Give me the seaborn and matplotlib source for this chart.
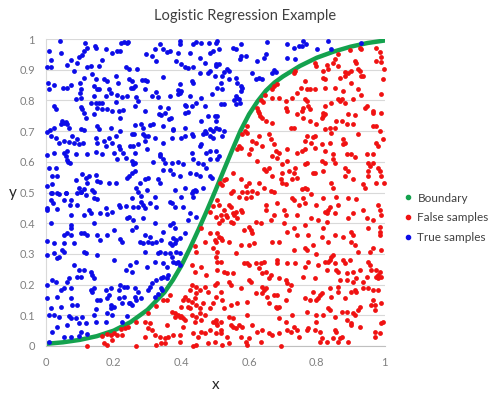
import matplotlib
matplotlib.use("Agg")
import matplotlib.pyplot as plt
from matplotlib.lines import Line2D
import seaborn as sns
import pandas as pd

# boundary curve
boundary_x = [0, 0.05, 0.1, 0.15, 0.2, 0.25, 0.3, 0.35, 0.375, 0.4, 0.425, 0.45, 0.475, 0.5,
              0.525, 0.55, 0.575, 0.6, 0.625, 0.65, 0.675, 0.7, 0.75, 0.8, 0.85, 0.9, 0.95, 1.0]
boundary_y = [0.007, 0.012, 0.02, 0.032, 0.05, 0.078, 0.118, 0.175, 0.215, 0.262, 0.318, 0.378, 0.44, 0.505,
              0.572, 0.638, 0.702, 0.755, 0.797, 0.832, 0.858, 0.878, 0.912, 0.939, 0.959, 0.975, 0.987, 0.995]

# True samples (blue), by region
true_top_left = [
    (0.041, 0.993), (0.114, 0.988), (0.144, 0.977), (0.147, 0.972), (0.223, 0.988), (0.230, 0.990),
    (0.238, 0.986), (0.243, 0.990), (0.009, 0.961), (0.043, 0.955), (0.112, 0.961), (0.176, 0.966),
    (0.122, 0.972), (0.097, 0.942), (0.107, 0.947), (0.016, 0.932), (0.073, 0.932), (0.166, 0.932),
    (0.196, 0.955), (0.210, 0.961), (0.220, 0.961), (0.063, 0.914), (0.092, 0.923), (0.122, 0.910),
    (0.132, 0.912), (0.156, 0.912), (0.002, 0.910), (0.014, 0.910), (0.235, 0.910), (0.245, 0.901),
    (0.083, 0.896), (0.006, 0.858), (0.024, 0.849), (0.009, 0.836), (0.051, 0.841), (0.063, 0.841),
    (0.073, 0.849), (0.100, 0.858), (0.112, 0.874), (0.137, 0.885), (0.147, 0.869), (0.142, 0.847),
    (0.151, 0.838), (0.156, 0.836), (0.181, 0.863), (0.171, 0.869), (0.206, 0.879), (0.212, 0.858),
    (0.245, 0.869), (0.250, 0.841), (0.186, 0.836), (0.102, 0.838), (0.100, 0.825), (0.088, 0.806),
    (0.102, 0.809), (0.176, 0.814), (0.191, 0.823), (0.210, 0.817), (0.225, 0.812), (0.238, 0.814),
    (0.142, 0.814), (0.024, 0.782), (0.031, 0.771), (0.102, 0.780), (0.107, 0.773), (0.147, 0.793),
    (0.156, 0.793), (0.166, 0.790), (0.132, 0.793), (0.151, 0.776), (0.112, 0.758), (0.117, 0.744),
    (0.142, 0.755), (0.166, 0.771), (0.181, 0.771), (0.206, 0.795), (0.196, 0.765), (0.215, 0.765),
    (0.228, 0.769), (0.220, 0.744), (0.048, 0.733), (0.053, 0.725), (0.058, 0.730), (0.061, 0.722),
    (0.043, 0.722), (0.068, 0.711), (0.024, 0.711), (0.012, 0.704), (0.102, 0.708), (0.112, 0.704),
    (0.151, 0.717), (0.156, 0.706), (0.191, 0.711), (0.220, 0.700), (0.002, 0.698), (0.014, 0.684),
    (0.029, 0.679), (0.038, 0.662), (0.053, 0.668), (0.068, 0.665), (0.078, 0.684), (0.092, 0.675),
    (0.097, 0.657), (0.110, 0.660), (0.083, 0.660), (0.147, 0.679), (0.151, 0.662), (0.171, 0.668),
    (0.176, 0.651), (0.186, 0.679), (0.196, 0.662), (0.208, 0.684), (0.215, 0.651), (0.218, 0.641),
    (0.228, 0.630), (0.004, 0.621), (0.024, 0.628), (0.053, 0.630), (0.058, 0.619), (0.063, 0.635),
    (0.065, 0.599), (0.071, 0.597), (0.088, 0.624), (0.122, 0.624), (0.147, 0.632), (0.166, 0.624),
    (0.201, 0.630), (0.210, 0.608), (0.235, 0.613), (0.061, 0.606), (0.009, 0.581), (0.029, 0.581),
    (0.019, 0.554), (0.033, 0.554), (0.107, 0.559), (0.117, 0.548), (0.147, 0.556), (0.127, 0.554),
    (0.151, 0.537), (0.120, 0.530), (0.088, 0.541), (0.161, 0.534), (0.186, 0.532), (0.206, 0.532),
    (0.238, 0.548), (0.245, 0.554), (0.004, 0.521), (0.019, 0.527), (0.097, 0.516), (0.112, 0.510),
    (0.137, 0.508), (0.102, 0.502), (0.014, 0.499), (0.033, 0.499), (0.058, 0.499), (0.092, 0.499),
]
true_top_mid = [
    (0.395, 0.993), (0.395, 0.983), (0.336, 0.983), (0.435, 0.983), (0.444, 0.990), (0.459, 0.986),
    (0.482, 0.986), (0.503, 0.988), (0.322, 0.966), (0.346, 0.966), (0.356, 0.958), (0.366, 0.961),
    (0.390, 0.955), (0.425, 0.955), (0.295, 0.950), (0.312, 0.945), (0.326, 0.928), (0.385, 0.928),
    (0.400, 0.917), (0.454, 0.939), (0.484, 0.955), (0.494, 0.961), (0.469, 0.923), (0.410, 0.910),
    (0.420, 0.907), (0.435, 0.910), (0.503, 0.912), (0.269, 0.903), (0.253, 0.863), (0.263, 0.847),
    (0.258, 0.841), (0.285, 0.866), (0.292, 0.866), (0.299, 0.863), (0.292, 0.838), (0.346, 0.877),
    (0.395, 0.852), (0.430, 0.863), (0.435, 0.858), (0.454, 0.888), (0.479, 0.888), (0.498, 0.879),
    (0.484, 0.896), (0.390, 0.834), (0.395, 0.825), (0.400, 0.831), (0.390, 0.820), (0.326, 0.827),
    (0.331, 0.812), (0.312, 0.814), (0.267, 0.812), (0.272, 0.798), (0.366, 0.814), (0.425, 0.814),
    (0.459, 0.809), (0.489, 0.820), (0.263, 0.782), (0.292, 0.765), (0.336, 0.778), (0.361, 0.776),
    (0.410, 0.785), (0.415, 0.782), (0.430, 0.782), (0.444, 0.793), (0.469, 0.782), (0.334, 0.755),
    (0.341, 0.751), (0.351, 0.758), (0.364, 0.738), (0.368, 0.744), (0.410, 0.758), (0.420, 0.762),
    (0.479, 0.749), (0.498, 0.749), (0.503, 0.733), (0.282, 0.722), (0.263, 0.719), (0.287, 0.711),
    (0.307, 0.719), (0.317, 0.722), (0.346, 0.717), (0.376, 0.706), (0.410, 0.711), (0.459, 0.733),
    (0.484, 0.706), (0.494, 0.700), (0.469, 0.700), (0.253, 0.689), (0.260, 0.692), (0.287, 0.689),
    (0.292, 0.684), (0.248, 0.651), (0.258, 0.651), (0.263, 0.630), (0.272, 0.657), (0.292, 0.668),
    (0.302, 0.684), (0.322, 0.679), (0.371, 0.679), (0.400, 0.679), (0.410, 0.684), (0.430, 0.689),
    (0.435, 0.684), (0.464, 0.689), (0.474, 0.695), (0.484, 0.684), (0.494, 0.679), (0.454, 0.651),
    (0.459, 0.657), (0.484, 0.635), (0.346, 0.660), (0.374, 0.704), (0.336, 0.624), (0.338, 0.619),
    (0.430, 0.630), (0.472, 0.630), (0.503, 0.635), (0.297, 0.641), (0.253, 0.603), (0.258, 0.592),
    (0.263, 0.597), (0.317, 0.599), (0.346, 0.608), (0.351, 0.597), (0.371, 0.597), (0.390, 0.599),
    (0.405, 0.592), (0.435, 0.608), (0.449, 0.597), (0.464, 0.592), (0.484, 0.608), (0.253, 0.565),
    (0.263, 0.570), (0.277, 0.532), (0.267, 0.516), (0.292, 0.543), (0.302, 0.548), (0.331, 0.543),
    (0.346, 0.573), (0.366, 0.573), (0.376, 0.559), (0.395, 0.554), (0.425, 0.565), (0.444, 0.559),
    (0.454, 0.554), (0.474, 0.581), (0.484, 0.554), (0.489, 0.548), (0.336, 0.532), (0.381, 0.508),
    (0.410, 0.516), (0.435, 0.505), (0.444, 0.505), (0.464, 0.516), (0.297, 0.508),
]
true_top_right = [
    (0.506, 0.993), (0.511, 0.966), (0.551, 0.972), (0.560, 0.966), (0.575, 0.983), (0.575, 0.945),
    (0.572, 0.936), (0.590, 0.945), (0.624, 0.928), (0.644, 0.939), (0.649, 0.950), (0.654, 0.990),
    (0.713, 0.983), (0.733, 0.972), (0.747, 0.977), (0.737, 0.934), (0.713, 0.939), (0.501, 0.917),
    (0.511, 0.917), (0.536, 0.901), (0.526, 0.893), (0.541, 0.896), (0.521, 0.879), (0.541, 0.869),
    (0.560, 0.874), (0.565, 0.858), (0.575, 0.847), (0.580, 0.841), (0.516, 0.858), (0.506, 0.841),
    (0.521, 0.836), (0.575, 0.831), (0.619, 0.869), (0.629, 0.874), (0.639, 0.869), (0.678, 0.893),
    (0.669, 0.890), (0.674, 0.898), (0.610, 0.888), (0.560, 0.814), (0.565, 0.809), (0.570, 0.803),
    (0.556, 0.801), (0.516, 0.787), (0.526, 0.787), (0.560, 0.787), (0.572, 0.793), (0.506, 0.749),
    (0.501, 0.711), (0.511, 0.706), (0.526, 0.700), (0.521, 0.684), (0.511, 0.619), (0.506, 0.608),
    (0.760, 0.993), (0.767, 0.983), (0.755, 0.977), (0.834, 0.993), (0.802, 0.966), (0.842, 0.969),
    (0.930, 0.988),
]
true_bottom_left = [
    (0.019, 0.497), (0.038, 0.495), (0.058, 0.499), (0.102, 0.503), (0.117, 0.492), (0.142, 0.503),
    (0.014, 0.476), (0.022, 0.467), (0.053, 0.476), (0.075, 0.476), (0.142, 0.481), (0.151, 0.478),
    (0.002, 0.448), (0.004, 0.443), (0.033, 0.445), (0.071, 0.459), (0.092, 0.459), (0.127, 0.443),
    (0.176, 0.448), (0.181, 0.430), (0.196, 0.438), (0.215, 0.459), (0.220, 0.454), (0.235, 0.456),
    (0.240, 0.416), (0.245, 0.421), (0.161, 0.432), (0.132, 0.432), (0.073, 0.427), (0.112, 0.427),
    (0.014, 0.400), (0.073, 0.394), (0.073, 0.383), (0.142, 0.400), (0.053, 0.362), (0.063, 0.367),
    (0.073, 0.362), (0.102, 0.367), (0.112, 0.367), (0.122, 0.362), (0.151, 0.362), (0.161, 0.345),
    (0.181, 0.362), (0.201, 0.378), (0.220, 0.347), (0.225, 0.340), (0.002, 0.343), (0.024, 0.334),
    (0.053, 0.334), (0.083, 0.334), (0.004, 0.296), (0.024, 0.302), (0.033, 0.286), (0.038, 0.291),
    (0.048, 0.313), (0.053, 0.307), (0.112, 0.307), (0.117, 0.302), (0.151, 0.296), (0.201, 0.280),
    (0.235, 0.248), (0.083, 0.264), (0.097, 0.248), (0.112, 0.248), (0.132, 0.242), (0.137, 0.231),
    (0.142, 0.220), (0.092, 0.224), (0.102, 0.224), (0.068, 0.220), (0.063, 0.210), (0.019, 0.215),
    (0.029, 0.210), (0.002, 0.199), (0.043, 0.182), (0.053, 0.188), (0.073, 0.188), (0.132, 0.182),
    (0.142, 0.188), (0.137, 0.177), (0.191, 0.188), (0.215, 0.182), (0.220, 0.199), (0.230, 0.193),
    (0.240, 0.193), (0.176, 0.182), (0.004, 0.155), (0.033, 0.161), (0.073, 0.155), (0.078, 0.134),
    (0.092, 0.134), (0.151, 0.150), (0.161, 0.150), (0.181, 0.155), (0.186, 0.166), (0.191, 0.134),
    (0.201, 0.128), (0.215, 0.155), (0.225, 0.139), (0.230, 0.161), (0.245, 0.139), (0.014, 0.123),
    (0.043, 0.128), (0.147, 0.119), (0.191, 0.123), (0.009, 0.101), (0.024, 0.101), (0.038, 0.096),
    (0.068, 0.098), (0.073, 0.090), (0.088, 0.090), (0.107, 0.096), (0.142, 0.101), (0.181, 0.106),
    (0.196, 0.101), (0.240, 0.098), (0.097, 0.074), (0.117, 0.074), (0.147, 0.079), (0.176, 0.079),
    (0.225, 0.079), (0.033, 0.063), (0.063, 0.068), (0.019, 0.047), (0.053, 0.030), (0.073, 0.030),
    (0.097, 0.034), (0.122, 0.039), (0.102, 0.047), (0.009, 0.014),
]
true_bottom_mid = [
    (0.272, 0.503), (0.282, 0.489), (0.253, 0.481), (0.258, 0.454), (0.272, 0.454), (0.282, 0.470),
    (0.287, 0.459), (0.292, 0.448), (0.307, 0.465), (0.322, 0.486), (0.326, 0.454), (0.366, 0.470),
    (0.371, 0.465), (0.381, 0.454), (0.400, 0.486), (0.405, 0.454), (0.430, 0.497), (0.435, 0.486),
    (0.439, 0.508), (0.425, 0.432), (0.444, 0.421), (0.420, 0.410), (0.258, 0.410), (0.287, 0.416),
    (0.253, 0.378), (0.267, 0.389), (0.322, 0.400), (0.366, 0.394), (0.376, 0.400), (0.381, 0.383),
    (0.410, 0.367), (0.292, 0.362), (0.307, 0.356), (0.302, 0.340), (0.312, 0.334), (0.277, 0.340),
    (0.287, 0.334), (0.292, 0.307), (0.326, 0.340), (0.341, 0.345), (0.346, 0.372), (0.376, 0.351),
    (0.385, 0.345), (0.381, 0.334), (0.395, 0.351), (0.366, 0.334), (0.371, 0.329), (0.331, 0.302),
    (0.336, 0.307), (0.351, 0.302), (0.366, 0.302), (0.385, 0.307), (0.395, 0.302), (0.371, 0.291),
    (0.376, 0.275), (0.385, 0.269), (0.390, 0.275), (0.395, 0.264), (0.267, 0.275), (0.248, 0.264),
    (0.253, 0.242), (0.297, 0.258), (0.322, 0.275), (0.346, 0.269), (0.356, 0.258), (0.341, 0.220),
    (0.346, 0.226), (0.356, 0.220), (0.361, 0.231), (0.326, 0.215), (0.312, 0.204), (0.307, 0.193),
    (0.302, 0.182), (0.263, 0.188), (0.272, 0.177), (0.263, 0.161), (0.267, 0.150), (0.248, 0.139),
    (0.282, 0.155), (0.253, 0.134), (0.322, 0.161), (0.332, 0.168), (0.343, 0.182), (0.341, 0.188),
]

# False samples (red), by region
false_top = [
    (0.737, 0.896), (0.733, 0.890), (0.683, 0.855), (0.674, 0.846), (0.668, 0.836), (0.636, 0.800),
    (0.642, 0.795), (0.669, 0.809), (0.688, 0.809), (0.648, 0.816), (0.708, 0.798), (0.728, 0.809),
    (0.742, 0.825), (0.752, 0.841), (0.622, 0.775), (0.625, 0.766), (0.628, 0.758), (0.633, 0.750),
    (0.639, 0.742), (0.649, 0.733), (0.669, 0.727), (0.708, 0.776), (0.713, 0.765), (0.742, 0.755),
    (0.757, 0.765), (0.733, 0.711), (0.723, 0.711), (0.594, 0.715), (0.588, 0.700), (0.580, 0.690),
    (0.595, 0.695), (0.629, 0.684), (0.659, 0.689), (0.664, 0.673), (0.610, 0.668), (0.619, 0.662),
    (0.639, 0.651), (0.674, 0.657), (0.678, 0.635), (0.688, 0.630), (0.669, 0.619), (0.683, 0.613),
    (0.605, 0.641), (0.600, 0.624), (0.624, 0.603), (0.570, 0.651), (0.565, 0.641), (0.575, 0.646),
    (0.713, 0.641), (0.742, 0.630), (0.757, 0.635), (0.644, 0.575), (0.649, 0.570), (0.659, 0.581),
    (0.698, 0.592), (0.713, 0.603), (0.733, 0.565), (0.737, 0.581), (0.698, 0.565), (0.718, 0.570),
    (0.669, 0.554), (0.693, 0.543), (0.551, 0.565), (0.575, 0.543), (0.531, 0.543), (0.515, 0.530),
    (0.520, 0.525), (0.525, 0.540), (0.600, 0.532), (0.629, 0.532), (0.610, 0.505), (0.624, 0.499),
    (0.698, 0.532), (0.708, 0.527), (0.728, 0.543), (0.742, 0.548), (0.757, 0.510), (0.551, 0.505),
    (0.590, 0.521), (0.644, 0.516), (0.664, 0.505),
    (0.898, 0.964), (0.927, 0.972), (0.932, 0.966), (0.976, 0.972), (0.986, 0.958), (0.991, 0.942),
    (0.976, 0.928), (0.991, 0.925), (0.863, 0.950), (0.853, 0.934), (0.848, 0.923), (0.829, 0.914),
    (0.794, 0.923), (0.799, 0.912), (0.819, 0.896), (0.834, 0.901), (0.863, 0.912), (0.912, 0.928),
    (0.917, 0.923), (0.922, 0.901), (0.927, 0.896), (0.902, 0.896), (0.883, 0.893), (0.893, 0.890),
    (0.932, 0.879), (0.937, 0.879), (0.998, 0.901), (0.819, 0.874), (0.824, 0.869), (0.868, 0.874),
    (0.883, 0.879), (0.902, 0.858), (0.765, 0.863), (0.780, 0.836), (0.770, 0.836), (0.794, 0.836),
    (0.824, 0.841), (0.853, 0.841), (0.878, 0.831), (0.922, 0.836), (0.932, 0.817), (0.996, 0.869),
    (0.991, 0.820), (0.765, 0.803), (0.770, 0.798), (0.863, 0.803), (0.868, 0.798), (0.873, 0.803),
    (0.843, 0.793), (0.883, 0.793), (0.907, 0.803), (0.947, 0.782), (0.760, 0.776), (0.775, 0.782),
    (0.780, 0.771), (0.824, 0.782), (0.942, 0.776), (0.966, 0.765), (0.966, 0.760), (0.991, 0.760),
    (0.893, 0.755), (0.912, 0.751), (0.819, 0.760), (0.819, 0.749), (0.824, 0.755), (0.814, 0.744),
    (0.760, 0.744), (0.780, 0.733), (0.799, 0.722), (0.858, 0.733), (0.873, 0.733), (0.824, 0.706),
    (0.839, 0.711), (0.853, 0.711), (0.843, 0.695), (0.888, 0.722), (0.907, 0.722), (0.966, 0.717),
    (0.976, 0.717), (0.986, 0.700), (0.770, 0.684), (0.794, 0.684), (0.789, 0.682), (0.922, 0.689),
    (0.765, 0.668), (0.784, 0.662), (0.794, 0.646), (0.814, 0.657), (0.824, 0.635), (0.839, 0.662),
    (0.878, 0.673), (0.883, 0.662), (0.878, 0.657), (0.976, 0.662), (0.981, 0.651), (0.996, 0.673),
    (0.765, 0.641), (0.770, 0.597), (0.765, 0.592), (0.848, 0.624), (0.848, 0.608), (0.853, 0.597),
    (0.814, 0.603), (0.824, 0.597), (0.888, 0.624), (0.902, 0.624), (0.912, 0.617), (0.947, 0.624),
    (0.966, 0.624), (0.883, 0.581), (0.893, 0.570), (0.952, 0.597), (0.957, 0.586), (0.966, 0.597),
    (0.981, 0.581), (0.789, 0.565), (0.794, 0.562), (0.819, 0.570), (0.883, 0.554), (0.907, 0.543),
    (0.952, 0.570), (0.952, 0.554), (0.986, 0.570), (0.991, 0.554), (0.765, 0.516), (0.770, 0.510),
    (0.843, 0.532), (0.848, 0.516), (0.937, 0.527), (0.942, 0.516), (0.976, 0.532), (0.998, 0.532),
]
false_bottom_left = [
    (0.181, 0.038), (0.222, 0.055), (0.232, 0.058), (0.243, 0.062), (0.191, 0.036), (0.201, 0.041),
    (0.210, 0.036), (0.225, 0.036), (0.166, 0.032), (0.171, 0.009), (0.181, 0.003), (0.196, 0.020),
    (0.122, 0.000),
    (0.492, 0.455), (0.484, 0.435), (0.503, 0.421), (0.459, 0.383), (0.484, 0.367), (0.469, 0.340),
    (0.440, 0.325), (0.444, 0.307), (0.494, 0.318), (0.498, 0.345), (0.503, 0.291), (0.459, 0.258),
    (0.439, 0.242), (0.430, 0.264), (0.474, 0.231), (0.430, 0.199), (0.444, 0.193), (0.425, 0.182),
    (0.444, 0.172), (0.454, 0.182), (0.469, 0.193), (0.479, 0.177), (0.498, 0.199), (0.503, 0.161),
    (0.494, 0.139), (0.410, 0.161), (0.420, 0.150), (0.430, 0.144), (0.405, 0.150), (0.439, 0.155),
    (0.444, 0.134), (0.454, 0.123), (0.464, 0.139), (0.484, 0.123), (0.425, 0.123), (0.420, 0.128),
    (0.400, 0.128), (0.366, 0.166), (0.356, 0.150), (0.346, 0.150), (0.325, 0.130), (0.300, 0.108),
    (0.371, 0.112), (0.381, 0.106), (0.390, 0.101), (0.395, 0.096), (0.400, 0.098), (0.405, 0.090),
    (0.381, 0.096), (0.410, 0.085), (0.430, 0.101), (0.444, 0.096), (0.454, 0.106), (0.469, 0.101),
    (0.439, 0.079), (0.459, 0.085), (0.494, 0.079), (0.503, 0.074), (0.292, 0.079), (0.307, 0.074),
    (0.356, 0.068), (0.405, 0.063), (0.292, 0.030), (0.302, 0.058), (0.312, 0.052), (0.322, 0.036),
    (0.336, 0.030), (0.351, 0.025), (0.361, 0.030), (0.376, 0.036), (0.395, 0.036), (0.435, 0.041),
    (0.449, 0.030), (0.459, 0.047), (0.469, 0.041), (0.484, 0.052), (0.503, 0.041), (0.267, 0.000),
    (0.326, 0.003), (0.341, 0.009), (0.351, 0.011), (0.395, 0.014), (0.435, 0.000), (0.444, 0.003),
    (0.479, 0.009), (0.498, 0.014), (0.265, 0.078),
]
false_bottom_mid = [
    (0.546, 0.497), (0.570, 0.486), (0.580, 0.503), (0.595, 0.503), (0.590, 0.481), (0.605, 0.486),
    (0.674, 0.503), (0.683, 0.465), (0.649, 0.459), (0.649, 0.443), (0.674, 0.427), (0.703, 0.443),
    (0.708, 0.427), (0.728, 0.481), (0.733, 0.476), (0.747, 0.459), (0.742, 0.427), (0.506, 0.476),
    (0.511, 0.459), (0.541, 0.459), (0.546, 0.454), (0.526, 0.443), (0.516, 0.427), (0.531, 0.427),
    (0.536, 0.421), (0.551, 0.432), (0.556, 0.427), (0.560, 0.438), (0.575, 0.443), (0.580, 0.438),
    (0.565, 0.416), (0.546, 0.405), (0.551, 0.400), (0.511, 0.400), (0.521, 0.410), (0.619, 0.405),
    (0.634, 0.400), (0.664, 0.410), (0.703, 0.400), (0.713, 0.372), (0.733, 0.383), (0.742, 0.362),
    (0.600, 0.389), (0.605, 0.378), (0.585, 0.378), (0.610, 0.367), (0.506, 0.367), (0.511, 0.356),
    (0.516, 0.351), (0.521, 0.345), (0.501, 0.340), (0.541, 0.340), (0.575, 0.329), (0.600, 0.329),
    (0.615, 0.337), (0.669, 0.340), (0.688, 0.340), (0.733, 0.313), (0.506, 0.307), (0.560, 0.302),
    (0.516, 0.275), (0.506, 0.275), (0.585, 0.269), (0.595, 0.269), (0.600, 0.264), (0.619, 0.269),
    (0.634, 0.269), (0.644, 0.275), (0.683, 0.280), (0.683, 0.269), (0.713, 0.269), (0.737, 0.269),
    (0.526, 0.242), (0.536, 0.237), (0.551, 0.237), (0.629, 0.253), (0.639, 0.237), (0.649, 0.242),
    (0.659, 0.220), (0.664, 0.231), (0.688, 0.220), (0.708, 0.215), (0.713, 0.204), (0.723, 0.199),
    (0.718, 0.182), (0.506, 0.248), (0.506, 0.204), (0.541, 0.210), (0.546, 0.199), (0.575, 0.188),
    (0.600, 0.215), (0.605, 0.210), (0.639, 0.193), (0.649, 0.188), (0.644, 0.182), (0.639, 0.172),
    (0.619, 0.172), (0.516, 0.177), (0.521, 0.150), (0.546, 0.134), (0.565, 0.139), (0.595, 0.144),
    (0.654, 0.161), (0.674, 0.166), (0.683, 0.166), (0.708, 0.150), (0.659, 0.139), (0.678, 0.128),
    (0.683, 0.123), (0.688, 0.128), (0.526, 0.123), (0.595, 0.101), (0.501, 0.085), (0.506, 0.068),
    (0.516, 0.079), (0.541, 0.096), (0.551, 0.090), (0.546, 0.068), (0.551, 0.063), (0.570, 0.068),
    (0.580, 0.063), (0.610, 0.068), (0.624, 0.047), (0.639, 0.052), (0.659, 0.041), (0.669, 0.036),
    (0.688, 0.041), (0.688, 0.090), (0.708, 0.079), (0.713, 0.052), (0.723, 0.047), (0.728, 0.101),
    (0.733, 0.063), (0.747, 0.030), (0.742, 0.052), (0.516, 0.052), (0.516, 0.041), (0.536, 0.030),
    (0.541, 0.009), (0.521, 0.003), (0.590, 0.014), (0.595, 0.003), (0.600, 0.025), (0.634, 0.014),
    (0.693, 0.000), (0.560, 0.058), (0.575, 0.030),
]
false_bottom_right = [
    (0.784, 0.495), (0.765, 0.465), (0.760, 0.481), (0.799, 0.459), (0.819, 0.481), (0.839, 0.454),
    (0.858, 0.486), (0.863, 0.459), (0.893, 0.481), (0.917, 0.478), (0.981, 0.459), (0.986, 0.443),
    (0.824, 0.438), (0.829, 0.432), (0.834, 0.443), (0.853, 0.432), (0.784, 0.416), (0.804, 0.410),
    (0.829, 0.405), (0.893, 0.416), (0.907, 0.432), (0.937, 0.443), (0.947, 0.416), (0.966, 0.410),
    (0.991, 0.427), (0.765, 0.394), (0.819, 0.383), (0.775, 0.362), (0.814, 0.356), (0.834, 0.340),
    (0.853, 0.362), (0.878, 0.356), (0.902, 0.372), (0.907, 0.362), (0.902, 0.340), (0.912, 0.329),
    (0.952, 0.383), (0.986, 0.389), (0.986, 0.372), (0.986, 0.362), (0.922, 0.307), (0.957, 0.307),
    (0.966, 0.318), (0.991, 0.313), (0.765, 0.318), (0.770, 0.313), (0.789, 0.329), (0.799, 0.300),
    (0.848, 0.296), (0.843, 0.291), (0.839, 0.280), (0.834, 0.275), (0.824, 0.275), (0.853, 0.269),
    (0.878, 0.280), (0.883, 0.269), (0.898, 0.280), (0.775, 0.275), (0.804, 0.264), (0.765, 0.258),
    (0.829, 0.248), (0.858, 0.248), (0.863, 0.242), (0.888, 0.237), (0.907, 0.242), (0.927, 0.248),
    (0.952, 0.275), (0.957, 0.264), (0.961, 0.248), (0.976, 0.248), (0.986, 0.242), (0.981, 0.231),
    (0.991, 0.226), (0.981, 0.220), (0.976, 0.226), (0.947, 0.226), (0.907, 0.210), (0.937, 0.210),
    (0.917, 0.220), (0.888, 0.215), (0.868, 0.215), (0.794, 0.220), (0.760, 0.226), (0.789, 0.177),
    (0.804, 0.155), (0.809, 0.166), (0.814, 0.172), (0.839, 0.188), (0.863, 0.193), (0.863, 0.177),
    (0.843, 0.161), (0.883, 0.155), (0.902, 0.177), (0.912, 0.182), (0.917, 0.177), (0.937, 0.188),
    (0.952, 0.188), (0.966, 0.182), (0.981, 0.182), (0.765, 0.155), (0.780, 0.150), (0.799, 0.150),
    (0.966, 0.150), (0.971, 0.134), (0.961, 0.134), (0.971, 0.117), (0.991, 0.139), (0.927, 0.128),
    (0.922, 0.117), (0.770, 0.112), (0.834, 0.123), (0.839, 0.117), (0.873, 0.112), (0.888, 0.112),
    (0.907, 0.106), (0.912, 0.101), (0.799, 0.101), (0.819, 0.101), (0.853, 0.096), (0.888, 0.085),
    (0.902, 0.074), (0.902, 0.068), (0.927, 0.063), (0.799, 0.079), (0.775, 0.058), (0.770, 0.052),
    (0.794, 0.052), (0.809, 0.047), (0.853, 0.052), (0.858, 0.047), (0.873, 0.030), (0.868, 0.025),
    (0.848, 0.025), (0.814, 0.025), (0.809, 0.014), (0.829, 0.014), (0.863, 0.014), (0.893, 0.014),
    (0.971, 0.047), (0.971, 0.030), (0.986, 0.041), (0.991, 0.074), (0.996, 0.079),
]

x_ticks = [0, 0.2, 0.4, 0.6, 0.8, 1]
x_tick_labels = ["0", "0.2", "0.4", "0.6", "0.8", "1"]
y_ticks = [0, 0.1, 0.2, 0.3, 0.4, 0.5, 0.6, 0.7, 0.8, 0.9, 1]
y_tick_labels = ["0", "0.1", "0.2", "0.3", "0.4", "0.5", "0.6", "0.7", "0.8", "0.9", "1"]

GREEN = "#14a24e"
RED = "#f01212"
BLUE = "#0c0ce8"


def to_frame(*groups):
    pts = [p for g in groups for p in g]
    return pd.DataFrame(pts, columns=["x", "y"])


true_df = to_frame(true_top_left, true_top_mid, true_top_right, true_bottom_left, true_bottom_mid)
false_df = to_frame(false_top, false_bottom_left, false_bottom_mid, false_bottom_right)

sns.set_style("white")
plt.rcParams["font.family"] = ["Lato", "DejaVu Sans"]

fig = plt.figure(figsize=(4.92, 4.12), dpi=100)
ax = fig.add_axes([46 / 492, 66 / 412, 338.5 / 492, 307 / 412])

sns.lineplot(x=boundary_x, y=boundary_y, color=GREEN, linewidth=3.2, ax=ax, zorder=2)
sns.scatterplot(data=false_df, x="x", y="y", color=RED, s=12, linewidth=0, ax=ax,
                zorder=3, clip_on=False)
sns.scatterplot(data=true_df, x="x", y="y", color=BLUE, s=12, linewidth=0, ax=ax,
                zorder=3, clip_on=False)

ax.set_xlim(0, 1)
ax.set_ylim(0, 1)
ax.set_xticks(x_ticks)
ax.set_xticklabels(x_tick_labels)
ax.set_yticks(y_ticks)
ax.set_yticklabels(y_tick_labels)
ax.tick_params(length=0, labelsize=8, labelcolor="#808080", pad=8)

ax.yaxis.grid(True, color="#d9d9d9", linewidth=0.8)
ax.xaxis.grid(False)
ax.set_axisbelow(True)
for side in ["top", "right"]:
    ax.spines[side].set_visible(False)
ax.spines["left"].set_color("#d9d9d9")
ax.spines["bottom"].set_color("#bfbfbf")
ax.spines["left"].set_linewidth(0.8)
ax.spines["bottom"].set_linewidth(0.8)

ax.set_xlabel("x", fontsize=11, color="#262626", va="center")
ax.xaxis.set_label_coords(0.5, -39 / 307)
ax.set_ylabel("y", fontsize=11, color="#262626", rotation=0, va="center", ha="center")
ax.yaxis.set_label_coords(-33 / 338.5, 0.5)

fig.text(0.498, 0.961, "Logistic Regression Example", ha="center", va="center",
         fontsize=10.5, color="#404040")

handles = [
    Line2D([], [], marker="o", linestyle="", color=GREEN, markersize=3),
    Line2D([], [], marker="o", linestyle="", color=RED, markersize=3),
    Line2D([], [], marker="o", linestyle="", color=BLUE, markersize=3),
]
fig.legend(handles, ["Boundary", "False samples", "True samples"], loc="center left",
           bbox_to_anchor=(0.822, 0.471), frameon=False, fontsize=8.5, handlelength=0.6,
           handletextpad=0.5, labelspacing=0.75, borderaxespad=0, borderpad=0,
           labelcolor="#404040")

fig.savefig("out.png", dpi=100)
plt.close(fig)
